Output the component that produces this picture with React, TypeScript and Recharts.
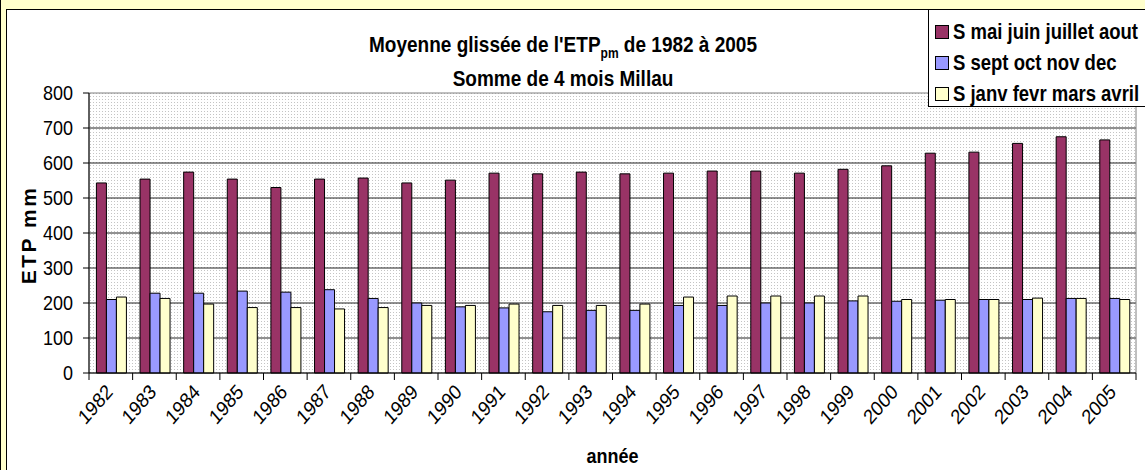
import {
  BarChart,
  Bar,
  XAxis,
  YAxis,
  CartesianGrid,
  Legend,
  ReferenceArea,
  Label,
} from 'recharts';

const YEARS = [
  '1982', '1983', '1984', '1985', '1986', '1987', '1988', '1989', '1990', '1991', '1992', '1993',
  '1994', '1995', '1996', '1997', '1998', '1999', '2000', '2001', '2002', '2003', '2004', '2005',
];
const MAI_AOUT = [543, 554, 574, 554, 530, 554, 557, 543, 551, 571, 569, 574, 569, 571, 577, 577, 571, 582, 592, 628, 631, 656, 675, 666];
const SEPT_DEC = [210, 228, 228, 234, 231, 238, 213, 200, 189, 186, 175, 179, 179, 193, 193, 200, 200, 206, 205, 208, 210, 210, 213, 213];
const JANV_AVRIL = [217, 213, 197, 187, 187, 183, 187, 193, 193, 197, 193, 193, 197, 217, 220, 220, 220, 220, 210, 210, 210, 214, 213, 210];
const SERIES_NAMES = ['S mai juin juillet aout', 'S sept oct nov dec', 'S janv fevr mars avril'];
const Y_TICKS = [0, 100, 200, 300, 400, 500, 600, 700, 800];

const data = YEARS.map((year, i) => ({
  year,
  mai: MAI_AOUT[i],
  sept: SEPT_DEC[i],
  janv: JANV_AVRIL[i],
}));

const FONT = '"Liberation Sans", Arial, sans-serif';
const W = 1145;
const H = 470;
const PLOT_LEFT = 89;
const PLOT_RIGHT = 1136;
const BAND = (PLOT_RIGHT - PLOT_LEFT) / YEARS.length;
const STRETCH = 1.15; // the original glyphs are a bit taller than wide

const stretchAt = (x: number, y: number, extra = '') =>
  `translate(${x} ${y}) scale(1 ${STRETCH}) ${extra} translate(${-x} ${-y})`;

function YearTick(props: any) {
  const { x, y, payload, index } = props;
  const half = BAND / 2;
  const tx = x + 3;
  const ty = y + 20;
  return (
    <g>
      <line x1={x - half} y1={y} x2={x - half} y2={y + 7} stroke="#000" />
      {index === YEARS.length - 1 && (
        <line x1={x + half} y1={y} x2={x + half} y2={y + 7} stroke="#000" />
      )}
      <text
        x={tx}
        y={ty}
        transform={stretchAt(tx, ty, 'rotate(-45)')}
        textAnchor="end"
        fontFamily={FONT}
        fontSize={18}
        fill="#000"
      >
        {payload.value}
      </text>
    </g>
  );
}

function ValueTick(props: any) {
  const { x, y, payload } = props;
  return (
    <text
      x={x}
      y={y}
      transform={stretchAt(x, y)}
      textAnchor="end"
      dominantBaseline="central"
      fontFamily={FONT}
      fontSize={18}
      fill="#000"
    >
      {payload.value}
    </text>
  );
}

function LegendBox(props: any) {
  const items = props.payload || [];
  const ordered = SERIES_NAMES.map((n) => items.find((it: any) => it.value === n)).filter(Boolean);
  return (
    <div
      style={{
        background: '#fff',
        border: '1px solid #000',
        width: 230,
        height: 98,
        boxSizing: 'border-box',
        paddingTop: 6,
        paddingLeft: 6,
      }}
    >
      {ordered.map((it: any) => (
        <div key={it.value} style={{ display: 'flex', alignItems: 'center', height: 31 }}>
          <span
            style={{
              width: 12,
              height: 12,
              background: it.color,
              border: '1px solid #000',
              marginRight: 4,
              flex: 'none',
            }}
          />
          <span
            style={{
              fontFamily: FONT,
              fontWeight: 'bold',
              fontSize: 18.5,
              color: '#000',
              whiteSpace: 'nowrap',
              display: 'inline-block',
              transform: `scaleY(${STRETCH})`,
            }}
          >
            {it.value}
          </span>
        </div>
      ))}
    </div>
  );
}

export default function App() {
  return (
    <div style={{ position: 'absolute', top: 0, left: 0, width: W, height: H, background: '#FFFFCC', borderLeft: '1px solid #000', boxSizing: 'border-box', overflow: 'hidden' }}>
      <div
        style={{
          position: 'absolute',
          left: 5,
          top: 9,
          width: W,
          height: H,
          background: '#fff',
          borderLeft: '1px solid #000',
          borderTop: '1px solid #000',
        }}
      />
      <div
        style={{
          position: 'absolute',
          left: 262,
          width: 600,
          top: 28,
          textAlign: 'center',
          fontFamily: FONT,
          fontWeight: 'bold',
          fontSize: 19,
          lineHeight: '34px',
          color: '#000',
        }}
      >
        <div style={{ transform: `scaleY(${STRETCH})` }}>
          Moyenne glissée de l'ETP<sub style={{ fontSize: 12, verticalAlign: -5, lineHeight: 0 }}>pm</sub> de 1982 à 2005
        </div>
        <div style={{ transform: `scaleY(${STRETCH})` }}>Somme de 4 mois Millau</div>
      </div>
      <div style={{ position: 'absolute', left: -1, top: 0 }}>
        <BarChart
          width={W}
          height={H}
          data={data}
          margin={{ top: 93, right: W - PLOT_RIGHT, bottom: 0, left: 0 }}
          barCategoryGap="17%"
          barGap={0}
        >
          <defs>
            <pattern id="dots" width="3" height="3" patternUnits="userSpaceOnUse">
              <rect width="3" height="3" fill="#ffffff" />
              <rect width="1" height="1" fill="#c4c4c4" />
            </pattern>
          </defs>
          <CartesianGrid
            vertical={false}
            horizontalValues={[100, 200, 300, 400, 500, 600, 700]}
            stroke="#222"
            fill="url(#dots)"
            fillOpacity={1}
          />
          <ReferenceArea y1={0} y2={800} fill="none" stroke="#808080" ifOverflow="visible" />
          <XAxis
            dataKey="year"
            interval={0}
            tickLine={false}
            tickSize={0}
            tickMargin={0}
            height={H - 373}
            axisLine={{ stroke: '#000' }}
            tick={<YearTick />}
          >
            <Label
              content={() => (
                <text
                  x={(PLOT_LEFT + PLOT_RIGHT) / 2}
                  y={463}
                  transform={stretchAt((PLOT_LEFT + PLOT_RIGHT) / 2, 463)}
                  textAnchor="middle"
                  fontFamily={FONT}
                  fontWeight="bold"
                  fontSize={18}
                  fill="#000"
                >
                  année
                </text>
              )}
            />
          </XAxis>
          <YAxis
            domain={[0, 800]}
            ticks={Y_TICKS}
            width={PLOT_LEFT}
            tickSize={6}
            tickMargin={10}
            axisLine={{ stroke: '#000' }}
            tickLine={{ stroke: '#000' }}
            tick={<ValueTick />}
          >
            <Label
              content={() => (
                <text
                  x={28}
                  y={235}
                  transform="rotate(-90 28 235)"
                  textAnchor="middle"
                  dominantBaseline="central"
                  fontFamily={FONT}
                  fontWeight="bold"
                  fontSize={21}
                  letterSpacing={2.5}
                  fill="#000"
                >
                  ETP mm
                </text>
              )}
            />
          </YAxis>
          <Legend
            layout="vertical"
            align="center"
            verticalAlign="middle"
            content={<LegendBox />}
            wrapperStyle={{ top: 9, left: 928, width: 230, height: 98 }}
          />
          <Bar dataKey="mai" name={SERIES_NAMES[0]} fill="#993366" stroke="#000" strokeWidth={1} isAnimationActive={false} />
          <Bar dataKey="sept" name={SERIES_NAMES[1]} fill="#9999FF" stroke="#000" strokeWidth={1} isAnimationActive={false} />
          <Bar dataKey="janv" name={SERIES_NAMES[2]} fill="#FFFFCC" stroke="#000" strokeWidth={1} isAnimationActive={false} />
        </BarChart>
      </div>
    </div>
  );
}
